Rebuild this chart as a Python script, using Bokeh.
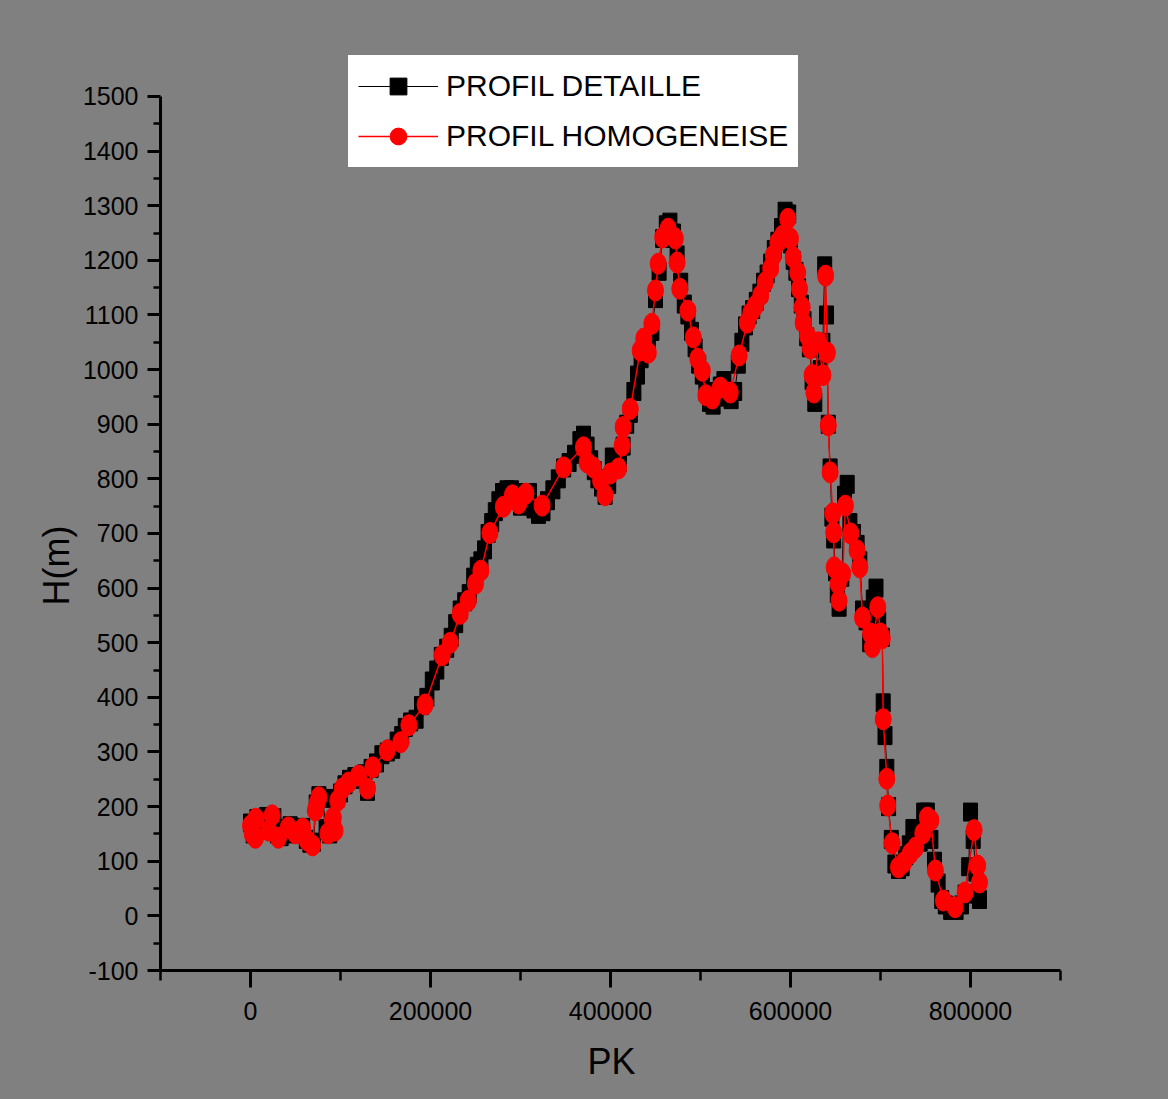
from bokeh.plotting import figure
from bokeh.models import FixedTicker, Legend, LegendItem, Range1d, NumeralTickFormatter, Title
from bokeh.embed import file_html
from bokeh.resources import INLINE

# ---- data: PROFIL DETAILLE (dense profile) ----
det_pk = [0, 3000, 7000, 10000, 14000, 18000, 22000, 26000, 30000, 34000, 38000, 44000, 48000, 54000,
          58000, 62000, 66000, 70000, 73000, 76000, 80000, 84000, 88000, 92000, 96000, 100000, 105000,
          110000, 116000, 122000, 127000, 130000, 134000, 140000, 146000, 152000, 158000, 163000, 168000,
          172000, 178000, 184000, 190000, 196000, 202000, 207000, 212000, 218000, 223000, 228000, 233000,
          238000, 243000, 248000, 252000, 256000, 260000, 264000, 268000, 272000, 276000, 280000, 285000,
          290000, 295000, 300000, 305000, 310000, 315000, 320000, 325000, 330000, 336000, 342000, 348000,
          354000, 360000, 366000, 370000, 374000, 378000, 382000, 386000, 390000, 394000, 398000, 402000,
          406000, 410000, 414000, 418000, 422000, 426000, 430000, 434000, 438000, 442000, 446000, 450000,
          454000, 458000, 462000, 466000, 470000, 474000, 478000, 482000, 486000, 490000, 494000, 498000,
          502000, 506000, 510000, 514000, 518000, 522000, 526000, 530000, 534000, 538000, 542000, 546000,
          550000, 554000, 558000, 562000, 566000, 570000, 574000, 578000, 582000, 586000, 590000, 594000,
          598000, 600000, 603000, 606000, 609000, 612000, 615000, 618000, 621000, 624000, 627000, 630000,
          633000, 636000, 638000, 640000, 642000, 644000, 646000, 648000, 650000, 652000, 654000, 657000,
          660000, 663000, 666000, 670000, 674000, 677000, 680000, 684000, 688000, 692000, 695000, 698000,
          702000, 703000, 705000, 707000, 709000, 712000, 716000, 720000, 724000, 728000, 732000, 736000,
          740000, 744000, 748000, 752000, 756000, 760000, 764000, 768000, 772000, 778000, 784000, 790000,
          794000, 798000, 800000, 803000, 806000, 808000, 810000]
det_h = [170, 150, 178, 160, 170, 182, 160, 180, 150, 145, 160, 165, 150, 155,
         162, 140, 133, 135, 205, 220, 215, 160, 150, 165, 215, 225, 240,
         250, 255, 250, 260, 228, 270, 280, 295, 300, 305, 320, 330,
         345, 355, 360, 385, 400, 430, 450, 475, 490, 510, 535, 560,
         575, 590, 620, 640, 650, 670, 700, 720, 740, 760, 775, 780,
         780, 775, 750, 770, 775, 745, 735, 740, 760, 780, 800, 820,
         830, 845, 870, 880, 860, 835, 815, 800, 785, 770, 790, 840,
         820, 830, 860, 900, 920, 960, 990, 1020, 1050, 1040, 1070, 1130,
         1180, 1240, 1265, 1270, 1250, 1210, 1160, 1120, 1100, 1070, 1040, 1010,
         990, 960, 940, 935, 950, 970, 980, 950, 945, 960, 1010, 1050,
         1080, 1100, 1110, 1125, 1140, 1160, 1175, 1195, 1220, 1235, 1260, 1290,
         1285, 1230, 1200, 1180, 1150, 1120, 1090, 1060, 1040, 980, 940, 1040,
         1000, 1050, 1190, 1100, 900, 820, 730, 690, 630, 590, 565, 620,
         770, 790, 720, 700, 680, 650, 560, 540, 500, 580, 600, 540,
         510, 390, 330, 270, 200, 140, 95, 85, 90, 110, 130, 160,
         140, 135, 190, 190, 140, 100, 60, 30, 20, 10, 10, 20,
         40, 90, 190, 140, 80, 40, 30]

# ---- data: PROFIL HOMOGENEISE ----
hom_pk = [0, 2000, 5500, 6000, 20000, 24000, 31000, 42000, 50000, 58000, 63000, 69000, 72000, 74000,
          76000, 86000, 92000, 94000, 97000, 102000, 109000, 120000, 130000, 136000, 152000, 167000,
          176000, 194000, 213000, 222000, 233000, 242000, 250000, 256000, 266000, 281000, 291000, 298000,
          306000, 324000, 348000, 370000, 374000, 381000, 389000, 394000, 400000, 409000, 413000, 414000,
          422000, 433000, 437000, 442000, 446000, 450000, 453000, 458000, 464000, 472000, 474000, 477000,
          486000, 492000, 497000, 502000, 506000, 513000, 522000, 533000, 543000, 552000, 556000, 561000,
          567000, 572000, 578000, 581000, 586000, 591000, 597000, 600000, 603000, 608000, 610000, 613000,
          614000, 619000, 622000, 624000, 626000, 631000, 636000, 639000, 641000, 642000, 644000, 647000,
          648000, 648500, 653000, 654000, 658000, 661000, 667000, 674000, 677000, 680000, 689000, 691000,
          697000, 700000, 702000, 703000, 707000, 708000, 713000, 720000, 726000, 733000, 739000, 747000,
          752000, 756000, 761000, 770000, 783000, 794000, 804000, 808000, 810000]
hom_h = [165, 150, 143, 178, 156, 184, 143, 162, 151, 160, 138, 129, 193, 206,
         217, 151, 180, 156, 211, 233, 244, 257, 233, 272, 303, 318,
         349, 387, 477, 500, 553, 577, 608, 632, 701, 749, 770, 755,
         773, 751, 821, 858, 830, 821, 797, 770, 810, 819, 861, 895,
         928, 1035, 1057, 1031, 1084, 1145, 1194, 1242, 1258, 1240, 1196, 1148,
         1108, 1059, 1020, 998, 953, 947, 967, 958, 1026, 1086, 1104, 1117,
         1136, 1160, 1185, 1209, 1233, 1245, 1276, 1240, 1206, 1178, 1148, 1114,
         1086, 1062, 1039, 990, 958, 1050, 990, 1172, 1031, 898, 812, 737,
         702, 638, 608, 577, 627, 751, 700, 669, 638, 546, 517, 492,
         565, 517, 508, 360, 251, 202, 133, 89, 98, 114, 125, 151,
         180, 175, 83, 28, 16, 43, 157, 92, 61]

y_ticks = [-100, 0, 100, 200, 300, 400, 500, 600, 700, 800, 900, 1000, 1100, 1200, 1300, 1400, 1500]
y_minor = [-50, 50, 150, 250, 350, 450, 550, 650, 750, 850, 950, 1050, 1150, 1250, 1350, 1450]
x_ticks = [0, 200000, 400000, 600000, 800000]
x_minor = [-100000, 100000, 300000, 500000, 700000, 900000]

FONT = "Liberation Sans"

# frame runs to the top/right edges of the canvas; axis bounds keep the visible axes at the reference extent
p = figure(width=1168, height=1099, x_range=Range1d(-100000, 1020000), y_range=Range1d(-100, 1675.74),
           output_backend="svg", toolbar_location=None,
           min_border_left=160, min_border_right=0, min_border_top=0, min_border_bottom=129)
p.background_fill_color = "#808080"
p.border_fill_color = "#808080"
p.outline_line_color = None
p.grid.visible = False
p.styles = {"background-color": "#808080"}

# detailed profile
p.rect(det_pk, det_h, width=14, height=18, width_units="screen", height_units="screen",
       fill_color="black", line_color="black")
l1 = p.line(det_pk, det_h, line_color="black", line_width=1)
# homogenised profile
l2 = p.line(hom_pk, hom_h, line_color="red", line_width=1.5)
p.ellipse(hom_pk, hom_h, width=16, height=21, width_units="screen", height_units="screen",
          fill_color="red", line_color="red")

# legend proxies (off-screen)
m1 = p.scatter([-1e9], [-1e9], marker="square", size=16, fill_color="black", line_color="black")
m2 = p.scatter([-1e9], [-1e9], marker="circle", size=18, fill_color="red", line_color="red")

legend = Legend(items=[LegendItem(label="PROFIL DETAILLE", renderers=[l1, m1]),
                       LegendItem(label="PROFIL HOMOGENEISE", renderers=[l2, m2])],
                location=(187, 802))
legend.background_fill_color = "white"
legend.background_fill_alpha = 1
legend.border_line_color = "black"
legend.border_line_width = 1.5
legend.label_text_font = FONT
legend.label_text_font_size = "30px"
legend.label_text_color = "black"
legend.glyph_width = 80
legend.glyph_height = 42
legend.label_height = 42
legend.label_standoff = 8
legend.padding = 10
legend.spacing = 8
legend.margin = 0
p.add_layout(legend, "center")

for ax in (p.xaxis[0], p.yaxis[0]):
    ax.axis_line_width = 3
    ax.axis_line_color = "black"
    ax.major_tick_line_width = 3
    ax.minor_tick_line_width = 2.5
    ax.major_tick_line_color = "black"
    ax.minor_tick_line_color = "black"
    ax.major_tick_in = 0
    ax.minor_tick_in = 0
    ax.major_label_text_font = FONT
    ax.major_label_text_font_size = "25px"
    ax.major_label_text_color = "black"
    ax.formatter = NumeralTickFormatter(format="0")

p.xaxis[0].ticker = FixedTicker(ticks=x_ticks, minor_ticks=x_minor)
p.yaxis[0].ticker = FixedTicker(ticks=y_ticks, minor_ticks=y_minor)
p.xaxis[0].bounds = (-100000, 900000)
p.yaxis[0].bounds = (-100, 1500)
p.xaxis[0].major_tick_out = 17
p.xaxis[0].minor_tick_out = 10
p.yaxis[0].major_tick_out = 13
p.yaxis[0].minor_tick_out = 7
p.xaxis[0].major_label_standoff = 14
p.yaxis[0].major_label_standoff = 9

# axis titles placed in the side panels, anchored from the frame's left / bottom
xtitle = Title(text="PK", align="left", offset=427, standoff=33,
               text_font=FONT, text_font_size="36px", text_font_style="normal",
               text_color="black")
p.add_layout(xtitle, "below")
ytitle = Title(text="H(m)", align="left", offset=365, standoff=5,
               text_font=FONT, text_font_size="36px", text_font_style="normal",
               text_color="black")
p.add_layout(ytitle, "left")

open("out.html", "w").write(file_html(p, INLINE))
